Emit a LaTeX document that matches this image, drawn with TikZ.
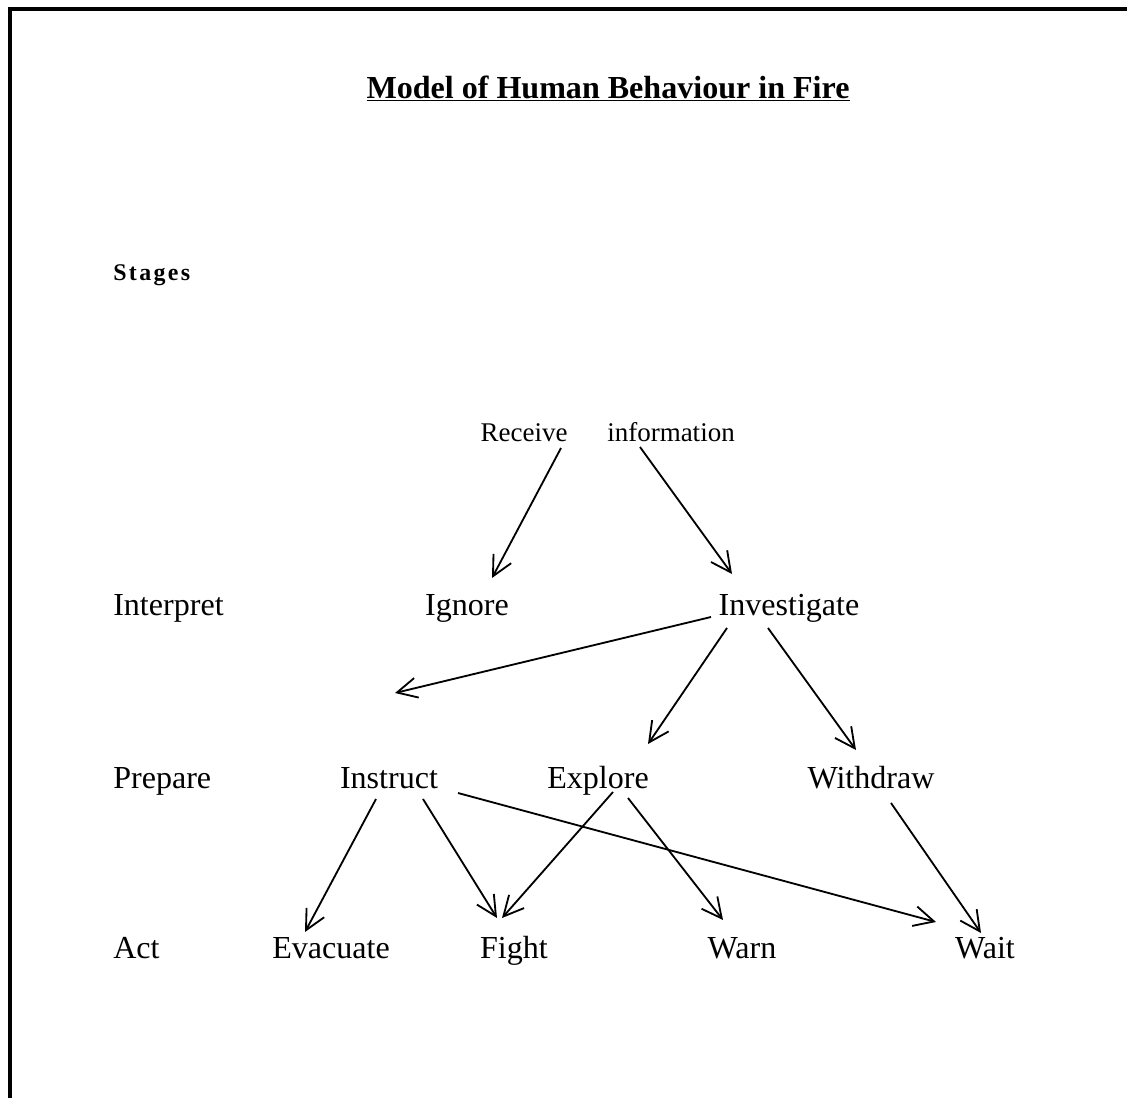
\documentclass[tikz,border=0pt]{standalone}
\usepackage{fontspec}
\setmainfont{Liberation Serif}
\usetikzlibrary{arrows.meta,calc}

\tikzset{
    word/.style={anchor=base, inner sep=0pt, font=\fontsize{22.8}{27}\selectfont},
    stage/.style={word, anchor=base west},
    small/.style={anchor=base, inner sep=0pt, font=\fontsize{19.2}{23}\selectfont},
    arr/.style={line width=1.3pt, -{Straight Barb[length=0.5cm, width=0.5cm, line width=1.3pt]}}
}

\begin{document}
\begin{tikzpicture}[x=0.025cm, y=-0.025cm]

    % Page
    \useasboundingbox (0, 0) rectangle (1127, 1098);
    \draw[line width=0.075cm] (10, 1098) -- (10, 9) -- (1127, 9);

    % Title
    \node[word, font=\fontsize{22.8}{27}\selectfont\bfseries] (title) at (608, 98) {\underline{Model of Human Behaviour in Fire}};

    % Stages
    \node[stage, font=\fontsize{17}{20}\selectfont\bfseries\addfontfeature{LetterSpace=10}] (stages) at (113, 280) {Stages};
    \node[stage] (interp) at (113, 615) {Interpret};
    \node[stage] (prep) at (113, 788) {Prepare};
    \node[stage] (act) at (113, 958) {Act};

    % Receive information
    \node[small] (rec) at (524, 441) {Receive};
    \node[small] (info) at (671, 441) {information};

    % Interpret
    \node[word] (ign) at (467, 615) {Ignore};
    \node[word] (inv) at (789, 615) {Investigate};

    % Prepare
    \node[word] (instr) at (389, 788) {Instruct};
    \node[word] (expl) at (598, 788) {Explore};
    \node[word] (withd) at (871, 788) {Withdraw};

    % Act
    \node[word] (evac) at (331, 958) {Evacuate};
    \node[word] (fight) at (514, 958) {Fight};
    \node[word] (warn) at (742, 958) {Warn};
    \node[word] (wait) at (985, 958) {Wait};

    % Arrows
    \draw[arr] ($(rec.base)+(37, 7)$) -- ($(ign.base)+(25, -37)$);
    \draw[arr] ($(info.base)+(-31, 6)$) -- ($(inv.base)+(-57, -41)$);
    \draw[arr] ($(inv.base)+(-78, 2)$) -- ($(instr.base)+(6, -95)$);
    \draw[arr] ($(inv.base)+(-62, 13)$) -- ($(expl.base)+(50, -44)$);
    \draw[arr] ($(inv.base)+(-21, 13)$) -- ($(withd.base)+(-15, -38)$);
    \draw[arr] ($(instr.base)+(-13, 11)$) -- ($(evac.base)+(-26, -26)$);
    \draw[arr] ($(instr.base)+(34, 11)$) -- ($(fight.base)+(-17, -40)$);
    \draw[arr] ($(instr.base)+(69, 5)$) -- ($(wait.base)+(-49, -36)$);
    \draw[arr] ($(expl.base)+(15, 4)$) -- ($(fight.base)+(-12, -40)$);
    \draw[arr] ($(expl.base)+(30, 10)$) -- ($(warn.base)+(-19, -38)$);
    \draw[arr] ($(withd.base)+(20, 15)$) -- ($(wait.base)+(-4, -25)$);

\end{tikzpicture}
\end{document}
